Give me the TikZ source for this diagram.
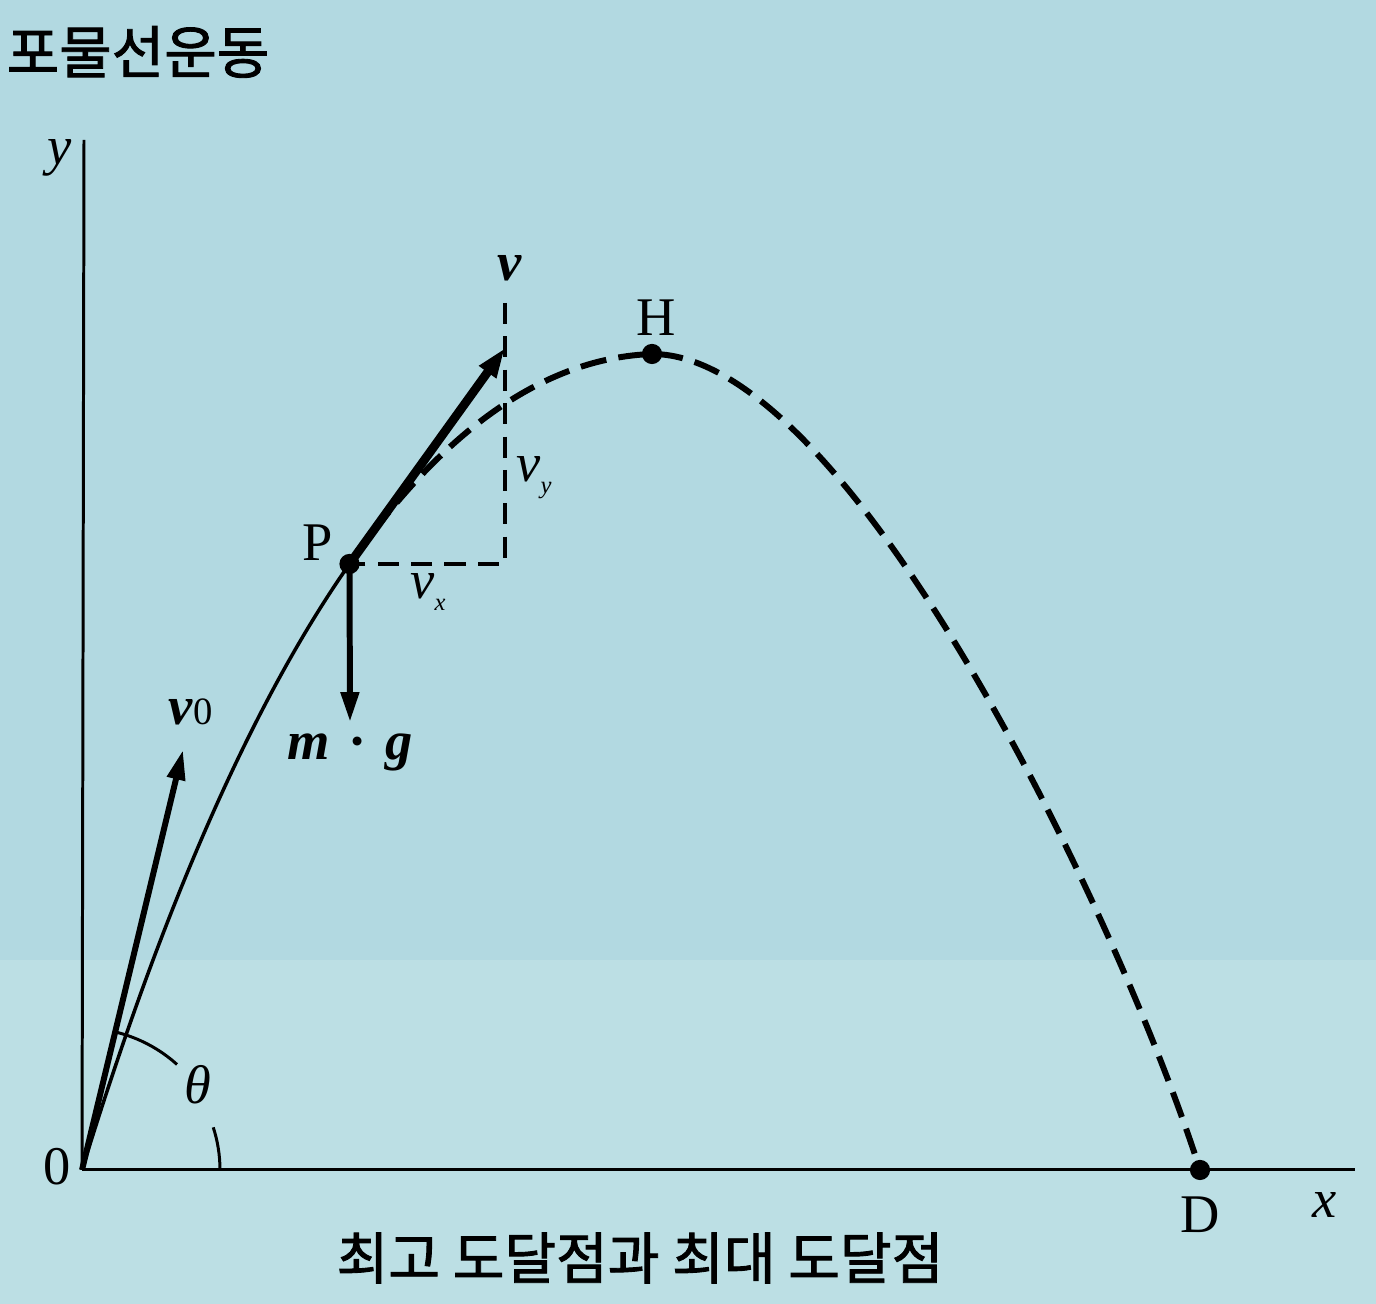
\documentclass[tikz,border=0pt]{standalone}
\usepackage{fontspec}
\setmainfont{Liberation Serif}
\newfontfamily\kr[FakeBold=1.6]{Noto Sans CJK KR}
\usetikzlibrary{arrows.meta}
\begin{document}
\begin{tikzpicture}[x=0.02cm,y=0.02cm,
  lbl/.style={inner sep=0pt,font=\fontsize{31}{31}\selectfont},
  dotp/.style={circle,fill=black,inner sep=0pt,minimum size=11.5pt},
  axis/.style={line width=1.7pt},
  thickarrow/.style={line width=3.4pt,-{Triangle[length=17pt,width=10pt]}},
  comp/.style={line width=1.9pt,dash pattern=on 12pt off 7pt},
  traj/.style={line width=3.4pt,dash pattern=on 15pt off 7pt}]
\useasboundingbox (0,0) rectangle (1376,1304);
\fill[color={rgb,255:red,178;green,217;blue,225}] (0,344) rectangle (1376,1304);
\fill[color={rgb,255:red,188;green,223;blue,228}] (0,0) rectangle (1376,344);
% title
\node[inner sep=0pt,font=\kr\fontsize{32.5}{32.5}\selectfont] (title) at (138,1252) {포물선운동};
% axes
\coordinate (O) at (82,134);
\coordinate (ytop) at (84,1164);
\coordinate (xend) at (1355,134);
\draw[axis] (O) -- (ytop);
\draw[axis] (O) -- (xend);
\node[lbl] (ylab) at (60,1146) {\textit{y}};
\node[lbl] (xlab) at (1325,99) {\textit{x}};
\node[lbl] (olab) at (57,137) {0};
% points
\node[dotp] (P) at (349.5,740) {};
\node[dotp] (H) at (652,950) {};
\node[dotp] (D) at (1200,134) {};
\node[lbl] (Plab) at (318,761) {P};
\node[lbl] (Hlab) at (656,986) {H};
\node[lbl] (Dlab) at (1200,89) {D};
% trajectory
\draw[line width=2pt] (O) .. controls (164.3,402) and (254.2,604) .. (P.center);
\draw[traj] (P.center) .. controls (444.8,876) and (545.7,946) .. (H.center)
  .. controls (850,950) and (1120,384) .. (D.center);
% v0 vector
\coordinate (v0tip) at (183,554);
\draw[thickarrow] (O) -- (v0tip);
\node[lbl,anchor=west] (v0lab) at (168,592) {\textbf{\textit{v}}\fontsize{22}{22}\selectfont 0};
% theta
\draw[line width=1.7pt] ([shift={(76:142)}]O) arc[start angle=76,end angle=48,radius=142];
\draw[line width=1.7pt] ([shift={(18:138)}]O) arc[start angle=18,end angle=0,radius=138];
\node[lbl] (th) at (198,219) {\textit{θ}};
% velocity at P
\coordinate (vtip) at (505,956);
\coordinate (vtop) at (505,1001);
\coordinate (vcorner) at (505,740);
\draw[comp] (vtop) -- (vcorner) -- (P.center);
\draw[line width=5pt,-{Triangle[length=17pt,width=11pt]}] (P.center) -- (vtip);
\node[lbl] (vlab) at (510,1036) {\textbf{\textit{v}}};
\node[lbl,anchor=west] (vylab) at (516,826) {\textit{v}\raisebox{-7pt}{\fontsize{14}{14}\selectfont\textit{y}}};
\node[lbl,anchor=west] (vxlab) at (410,712) {\textit{v}\raisebox{-7pt}{\fontsize{14}{14}\selectfont\textit{x}}};
% gravity
\coordinate (gtip) at (350,582);
\draw[thickarrow] (P.center) -- (gtip);
\node[lbl] (mg) at (350,552) {\textbf{\textit{m}}\hspace{0.35em}\textbf{·}\hspace{0.35em}\textbf{\textit{g}}};
% caption
\node[inner sep=0pt,font=\kr\fontsize{32}{32}\selectfont] (cap) at (640,46) {최고 도달점과 최대 도달점};
\end{tikzpicture}
\end{document}
